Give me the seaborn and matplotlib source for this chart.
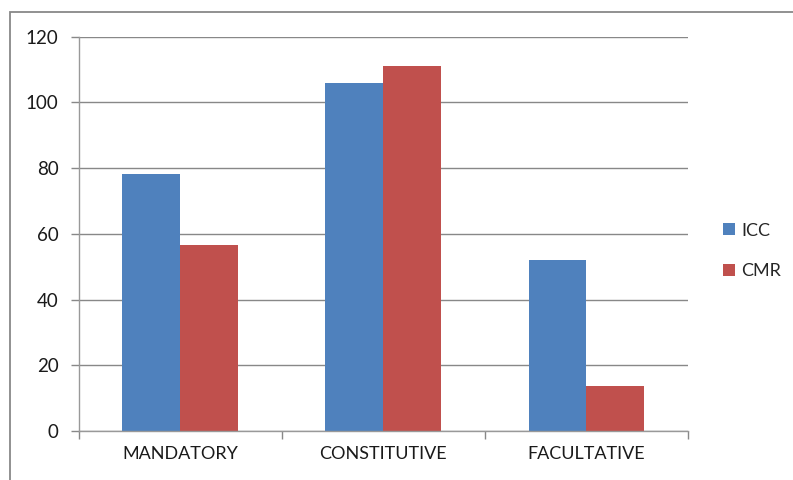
import matplotlib
matplotlib.use("Agg")
import matplotlib.pyplot as plt
import seaborn as sns
import pandas as pd
from matplotlib.patches import Rectangle, Patch

categories = ["MANDATORY", "CONSTITUTIVE", "FACULTATIVE"]
icc = [78.2, 105.9, 52.0]
cmr = [56.5, 111.1, 13.7]
series = ["ICC", "CMR"]
colors = ["#4F81BD", "#C0504D"]
yticks = [0, 20, 40, 60, 80, 100, 120]

df = pd.DataFrame({
    "category": categories * 2,
    "value": icc + cmr,
    "series": [series[0]] * 3 + [series[1]] * 3,
})

sns.set_theme(style="white")
plt.rcParams["font.family"] = ["Lato", "DejaVu Sans"]

fig = plt.figure(figsize=(7.93, 4.80), dpi=100)
ax = fig.add_axes([78.7 / 793, 1 - 431 / 480, (688 - 78.7) / 793, (431 - 36.7) / 480])

sns.barplot(data=df, x="category", y="value", hue="series", palette=colors,
            width=0.57, saturation=1, ax=ax, legend=False, edgecolor="none")

ax.set_xlim(-0.5, 2.5)
ax.set_ylim(0, 120)
ax.set_yticks(yticks)
ax.set_yticklabels([str(v) for v in yticks], fontsize=13.5, color="#1a1a1a")
ax.yaxis.grid(True, color="#888888", linewidth=1.0)
ax.set_axisbelow(True)
ax.set_xlabel("")
ax.set_ylabel("")

for s in ["top", "right"]:
    ax.spines[s].set_visible(False)
for s in ["left", "bottom"]:
    ax.spines[s].set_color("#999999")
    ax.spines[s].set_linewidth(1.0)

ax.tick_params(axis="y", which="major", left=True, length=5.5, width=1.0,
               color="#888888", pad=9, direction="out")
ax.set_xticks([0, 1, 2])
ax.set_xticklabels(categories, fontsize=13, color="#1a1a1a")
ax.set_xticks([-0.5, 0.5, 1.5, 2.5], minor=True)
ax.tick_params(axis="x", which="major", bottom=False, length=0, pad=11)
ax.tick_params(axis="x", which="minor", bottom=True, length=5.5, width=1.0,
               color="#888888", direction="out")

handles = [Patch(facecolor=c, edgecolor="none") for c in colors]
fig.legend(handles, series, loc="center left", bbox_to_anchor=(716 / 793, 1 - 251 / 480),
           frameon=False, fontsize=13, handlelength=0.65, handleheight=0.65,
           handletextpad=0.35, labelspacing=1.35, borderaxespad=0)

fig.patches.append(Rectangle((10 / 793, -0.1), 1.2, 1 - 12 / 480 + 0.1,
                             transform=fig.transFigure, fill=False,
                             edgecolor="#888888", linewidth=1.3))

fig.savefig("out.png", dpi=100)
